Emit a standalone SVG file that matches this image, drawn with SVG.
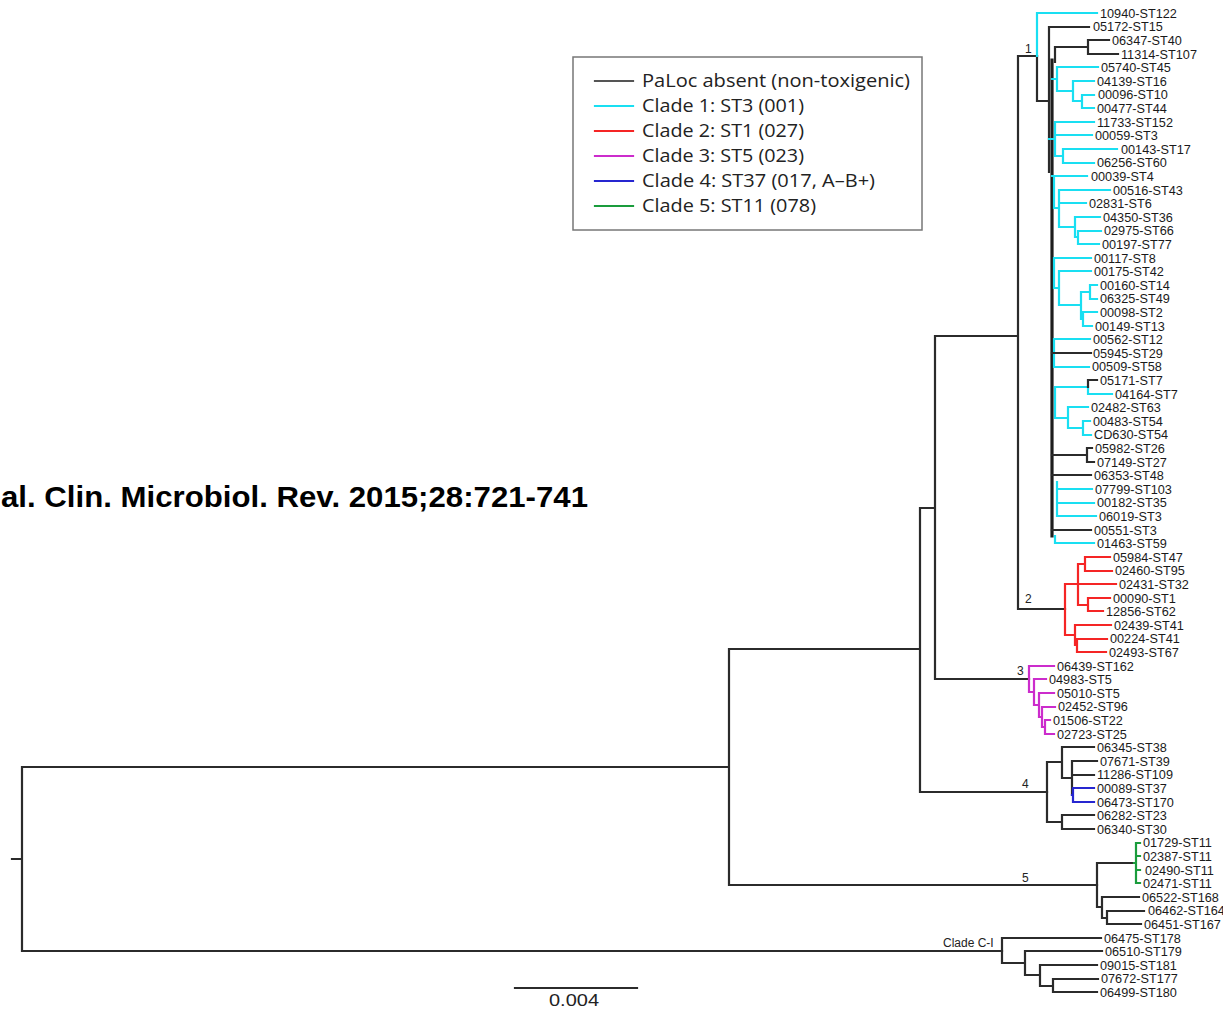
<svg xmlns="http://www.w3.org/2000/svg" width="1223" height="1009" viewBox="0 0 1223 1009">
<style>
.b{fill:none;stroke-width:2.2;stroke-linecap:square}
.k{stroke:#2b2b2b}
.sp{stroke:#1e1e1e;stroke-width:3.2}
.c{stroke:#19dff2}
.r{stroke:#f52525}
.m{stroke:#cc2ccc}
.u{stroke:#2626d0}
.g{stroke:#1a9c3c}
.lf{font-family:"Liberation Sans",Arial,sans-serif;font-size:12.7px;fill:#1a1a1a}
.cl{font-family:"Liberation Sans",Arial,sans-serif;font-size:12px;fill:#222}
.lg{font-family:"Open Sans","Liberation Sans",sans-serif;font-size:18.5px;fill:#222}
.ci{font-family:"Liberation Sans",Arial,sans-serif;font-size:30px;font-weight:bold;fill:#000}
.sc{font-family:"Liberation Sans",Arial,sans-serif;font-size:17px;fill:#222}
</style>
<rect x="0" y="0" width="1223" height="1009" fill="#fff"/>

<g id="citation"><text class="ci" x="1" y="507" textLength="587" lengthAdjust="spacingAndGlyphs">al. Clin. Microbiol. Rev. 2015;28:721-741</text></g>

<g id="legend">
<rect x="573" y="57" width="349" height="173" fill="#fff" stroke="#777" stroke-width="1.5"/>
<path class="b" stroke="#555" d="M595,81H633"/>
<path class="b c" d="M595,106H633"/>
<path class="b r" d="M595,131H633"/>
<path class="b m" d="M595,156H633"/>
<path class="b u" d="M595,181H633"/>
<path class="b g" d="M595,206H633"/>
<text class="lg" x="642" y="87" textLength="268" lengthAdjust="spacingAndGlyphs">PaLoc absent (non-toxigenic)</text>
<text class="lg" x="642" y="112" textLength="162" lengthAdjust="spacingAndGlyphs">Clade 1: ST3 (001)</text>
<text class="lg" x="642" y="137" textLength="162" lengthAdjust="spacingAndGlyphs">Clade 2: ST1 (027)</text>
<text class="lg" x="642" y="162" textLength="162" lengthAdjust="spacingAndGlyphs">Clade 3: ST5 (023)</text>
<text class="lg" x="642" y="187" textLength="233" lengthAdjust="spacingAndGlyphs">Clade 4: ST37 (017, A–B+)</text>
<text class="lg" x="642" y="212" textLength="174" lengthAdjust="spacingAndGlyphs">Clade 5: ST11 (078)</text>
</g>

<g id="connectors">
<path class="b k" d="M12,859H22 M22,767V951 M22,767H729 M22,951H1002 M729,649V885 M729,649H920 M729,885H1097 M920,508V792 M920,508H935 M920,792H1047 M935,336V679 M935,336H1018 M935,679H1029 M1018,56V609 M1018,56H1037 M1018,609H1065"/>
<path class="b k" d="M1037,56V101H1049 M1049,27V172 M1049,27H1089 M1055,47V62 M1055,47H1088 M1088,40V54 M1088,40H1109 M1088,54H1118"/>
<path class="b sp" d="M1052,60V536"/>
<path class="b c" d="M1037,13V56 M1037,13H1097 M1052,79H1057 M1057,67V91 M1057,67H1098 M1057,91H1073 M1073,81V101 M1073,81H1094 M1073,101H1082 M1082,95V108 M1082,95H1094 M1082,108H1094"/>
<path class="b c" d="M1049,139H1055 M1055,122V156 M1055,122H1094 M1055,135H1092 M1055,156H1063 M1063,149V163 M1063,149H1117 M1063,163H1094"/>
<path class="b c" d="M1052,176H1087 M1054,176V208 M1054,208H1059 M1059,190V227 M1059,190H1110 M1059,203H1086 M1059,227H1075 M1075,217V237 M1075,217H1100 M1075,237H1078 M1078,231V244 M1078,231H1101 M1078,244H1099"/>
<path class="b c" d="M1054,258V288 M1054,258H1091 M1054,288H1059 M1059,271V305 M1059,271H1091 M1059,305H1081 M1081,292V319 M1081,292H1090 M1090,285V299 M1090,285H1097 M1090,299H1097 M1081,319H1083 M1083,312V326 M1083,312H1097 M1083,326H1092"/>
<path class="b c" d="M1054,339V367 M1054,339H1090 M1054,367H1089"/>
<path class="b c" d="M1055,387V418 M1055,387H1088 M1088,387V394 M1088,394H1112 M1055,418H1068 M1068,407V428 M1068,407H1088 M1068,428H1083 M1083,421V435 M1083,421H1090 M1083,435H1091"/>
<path class="b c" d="M1057,482V516 M1057,489H1092 M1057,503H1094 M1057,516H1096 M1055,536V543 M1055,543H1094"/>
<path class="b k" d="M1052,353H1091 M1088,380V387 M1088,380H1097 M1052,455H1087 M1087,448V462 M1087,448H1092 M1087,462H1094 M1052,475H1091 M1052,530H1091"/>
<path class="b r" d="M1065,584V635 M1065,584H1078 M1078,564V605 M1078,564H1085 M1085,557V571 M1085,557H1110 M1085,571H1112 M1078,584H1116 M1078,605H1088 M1088,598V611 M1088,598H1110 M1088,611H1103 M1065,635H1075 M1075,625V645 M1075,625H1111 M1075,645H1077 M1077,639V652 M1077,639H1107 M1077,652H1106"/>
<path class="b m" d="M1029,666V692 M1029,666H1054 M1029,692H1034 M1034,679V705 M1034,679H1046 M1034,705H1039 M1039,693V717 M1039,693H1054 M1039,717H1042 M1042,707V727 M1042,707H1055 M1042,727H1045 M1045,720V734 M1045,720H1050 M1045,734H1054"/>
<path class="b k" d="M1047,762V822 M1047,762H1062 M1062,747V778 M1062,747H1094 M1062,778H1072 M1072,761V795 M1072,761H1097 M1072,775H1094 M1047,822H1062 M1062,815V829 M1062,815H1094 M1062,829H1094"/>
<path class="b u" d="M1072,795H1073 M1073,788V802 M1073,788H1094 M1073,802H1094"/>
<path class="b k" d="M1097,863V907 M1097,863H1134 M1097,907H1102 M1102,897V918 M1102,897H1139 M1102,918H1107 M1107,911V924 M1107,911H1144 M1107,924H1141"/>
<path class="b g" d="M1134,863H1136 M1136,843V883 M1136,843H1140 M1136,856H1140 M1136,870H1140 M1136,883H1140"/>
<path class="b k" d="M1002,938V963 M1002,938H1101 M1002,963H1025 M1025,951V975 M1025,951H1102 M1025,975H1040 M1040,965V986 M1040,965H1097 M1040,986H1053 M1053,979V992 M1053,979H1098 M1053,992H1097"/>
</g>

<g id="clade-labels">
<text class="cl" x="1025" y="53">1</text>
<text class="cl" x="1025" y="603">2</text>
<text class="cl" x="1017" y="675">3</text>
<text class="cl" x="1022" y="788">4</text>
<text class="cl" x="1022" y="882">5</text>
<text class="cl" x="943" y="947">Clade C-I</text>
</g>

<g id="scale-bar">
<path class="b k" d="M515,988H637"/>
<text class="sc" x="549" y="1006" textLength="50" lengthAdjust="spacingAndGlyphs">0.004</text>
</g>

<g id="leaves">
<g id="leaf-1"><text class="lf" x="1100" y="17.5">10940-ST122</text></g>
<g id="leaf-2"><text class="lf" x="1093" y="31">05172-ST15</text></g>
<g id="leaf-3"><text class="lf" x="1112" y="44.5">06347-ST40</text></g>
<g id="leaf-4"><text class="lf" x="1121" y="58.5">11314-ST107</text></g>
<g id="leaf-5"><text class="lf" x="1101" y="72">05740-ST45</text></g>
<g id="leaf-6"><text class="lf" x="1097" y="85.5">04139-ST16</text></g>
<g id="leaf-7"><text class="lf" x="1098" y="99">00096-ST10</text></g>
<g id="leaf-8"><text class="lf" x="1097" y="112.5">00477-ST44</text></g>
<g id="leaf-9"><text class="lf" x="1097" y="126.5">11733-ST152</text></g>
<g id="leaf-10"><text class="lf" x="1095" y="140">00059-ST3</text></g>
<g id="leaf-11"><text class="lf" x="1121" y="153.5">00143-ST17</text></g>
<g id="leaf-12"><text class="lf" x="1097" y="167">06256-ST60</text></g>
<g id="leaf-13"><text class="lf" x="1091" y="180.5">00039-ST4</text></g>
<g id="leaf-14"><text class="lf" x="1113" y="194.5">00516-ST43</text></g>
<g id="leaf-15"><text class="lf" x="1089" y="208">02831-ST6</text></g>
<g id="leaf-16"><text class="lf" x="1103" y="221.5">04350-ST36</text></g>
<g id="leaf-17"><text class="lf" x="1104" y="235">02975-ST66</text></g>
<g id="leaf-18"><text class="lf" x="1102" y="248.5">00197-ST77</text></g>
<g id="leaf-19"><text class="lf" x="1094" y="262.5">00117-ST8</text></g>
<g id="leaf-20"><text class="lf" x="1094" y="276">00175-ST42</text></g>
<g id="leaf-21"><text class="lf" x="1100" y="289.5">00160-ST14</text></g>
<g id="leaf-22"><text class="lf" x="1100" y="303">06325-ST49</text></g>
<g id="leaf-23"><text class="lf" x="1100" y="316.5">00098-ST2</text></g>
<g id="leaf-24"><text class="lf" x="1095" y="330.5">00149-ST13</text></g>
<g id="leaf-25"><text class="lf" x="1093" y="344">00562-ST12</text></g>
<g id="leaf-26"><text class="lf" x="1093" y="357.5">05945-ST29</text></g>
<g id="leaf-27"><text class="lf" x="1092" y="371">00509-ST58</text></g>
<g id="leaf-28"><text class="lf" x="1100" y="384.5">05171-ST7</text></g>
<g id="leaf-29"><text class="lf" x="1115" y="398.5">04164-ST7</text></g>
<g id="leaf-30"><text class="lf" x="1091" y="412">02482-ST63</text></g>
<g id="leaf-31"><text class="lf" x="1093" y="425.5">00483-ST54</text></g>
<g id="leaf-32"><text class="lf" x="1094" y="439">CD630-ST54</text></g>
<g id="leaf-33"><text class="lf" x="1095" y="452.5">05982-ST26</text></g>
<g id="leaf-34"><text class="lf" x="1097" y="466.5">07149-ST27</text></g>
<g id="leaf-35"><text class="lf" x="1094" y="480">06353-ST48</text></g>
<g id="leaf-36"><text class="lf" x="1095" y="493.5">07799-ST103</text></g>
<g id="leaf-37"><text class="lf" x="1097" y="507">00182-ST35</text></g>
<g id="leaf-38"><text class="lf" x="1099" y="520.5">06019-ST3</text></g>
<g id="leaf-39"><text class="lf" x="1094" y="534.5">00551-ST3</text></g>
<g id="leaf-40"><text class="lf" x="1097" y="548">01463-ST59</text></g>
<g id="leaf-41"><text class="lf" x="1113" y="561.5">05984-ST47</text></g>
<g id="leaf-42"><text class="lf" x="1115" y="575">02460-ST95</text></g>
<g id="leaf-43"><text class="lf" x="1119" y="588.5">02431-ST32</text></g>
<g id="leaf-44"><text class="lf" x="1113" y="602.5">00090-ST1</text></g>
<g id="leaf-45"><text class="lf" x="1106" y="616">12856-ST62</text></g>
<g id="leaf-46"><text class="lf" x="1114" y="629.5">02439-ST41</text></g>
<g id="leaf-47"><text class="lf" x="1110" y="643">00224-ST41</text></g>
<g id="leaf-48"><text class="lf" x="1109" y="656.5">02493-ST67</text></g>
<g id="leaf-49"><text class="lf" x="1057" y="670.5">06439-ST162</text></g>
<g id="leaf-50"><text class="lf" x="1049" y="684">04983-ST5</text></g>
<g id="leaf-51"><text class="lf" x="1057" y="697.5">05010-ST5</text></g>
<g id="leaf-52"><text class="lf" x="1058" y="711">02452-ST96</text></g>
<g id="leaf-53"><text class="lf" x="1053" y="724.5">01506-ST22</text></g>
<g id="leaf-54"><text class="lf" x="1057" y="738.5">02723-ST25</text></g>
<g id="leaf-55"><text class="lf" x="1097" y="752">06345-ST38</text></g>
<g id="leaf-56"><text class="lf" x="1100" y="765.5">07671-ST39</text></g>
<g id="leaf-57"><text class="lf" x="1097" y="779">11286-ST109</text></g>
<g id="leaf-58"><text class="lf" x="1097" y="792.5">00089-ST37</text></g>
<g id="leaf-59"><text class="lf" x="1097" y="806.5">06473-ST170</text></g>
<g id="leaf-60"><text class="lf" x="1097" y="820">06282-ST23</text></g>
<g id="leaf-61"><text class="lf" x="1097" y="833.5">06340-ST30</text></g>
<g id="leaf-62"><text class="lf" x="1143" y="847">01729-ST11</text></g>
<g id="leaf-63"><text class="lf" x="1143" y="860.5">02387-ST11</text></g>
<g id="leaf-64"><text class="lf" x="1145" y="874.5">02490-ST11</text></g>
<g id="leaf-65"><text class="lf" x="1143" y="888">02471-ST11</text></g>
<g id="leaf-66"><text class="lf" x="1142" y="901.5">06522-ST168</text></g>
<g id="leaf-67"><text class="lf" x="1148" y="915">06462-ST164</text></g>
<g id="leaf-68"><text class="lf" x="1144" y="928.5">06451-ST167</text></g>
<g id="leaf-69"><text class="lf" x="1104" y="942.5">06475-ST178</text></g>
<g id="leaf-70"><text class="lf" x="1105" y="956">06510-ST179</text></g>
<g id="leaf-71"><text class="lf" x="1100" y="969.5">09015-ST181</text></g>
<g id="leaf-72"><text class="lf" x="1101" y="983">07672-ST177</text></g>
<g id="leaf-73"><text class="lf" x="1100" y="996.5">06499-ST180</text></g>
</g>
</svg>
